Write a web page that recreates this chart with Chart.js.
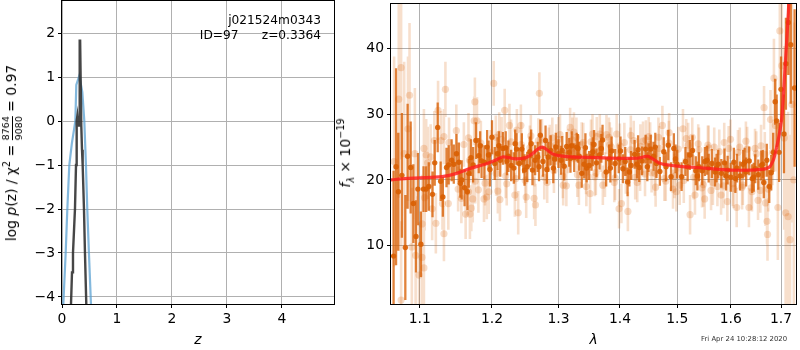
<!DOCTYPE html>
<html>
<head>
<meta charset="utf-8">
<script src="https://cdn.jsdelivr.net/npm/chart.js@4"></script>
<style>
html, body { margin: 0; padding: 0; background: #fff; overflow: hidden; }
#page { position: relative; width: 800px; height: 350px; font-family: "DejaVu Sans", sans-serif; color: #000; }
canvas { position: absolute; top: 0; }
#pzChart { left: 0; }
#specChart { left: 345px; }
.note { position: absolute; white-space: pre; line-height: 1; }
.rot { position: absolute; white-space: pre; transform: translate(-50%, -50%) rotate(-90deg); font-size: 13.9px; line-height: 1; }
.frac { display: inline-block; vertical-align: middle; text-align: center; font-size: 9.5px; line-height: 1; }
.frac span { display: block; }
.frac .num { border-bottom: 1px solid #000; padding-bottom: 1px; margin-bottom: 1px; }
sup, sub { font-size: 9.7px; line-height: 0; }
</style>
</head>
<body>
<div id="page">
  <canvas id="pzChart" width="345" height="350"></canvas>
  <canvas id="specChart" width="455" height="350"></canvas>
  <div class="note" style="right:479px;top:14px;font-size:12.2px">j021524m0343</div>
  <div class="note" style="right:479px;top:29px;font-size:12.2px">ID=97      z=0.3364</div>
  <div class="rot" style="left:12px;top:153px">log <i>p</i>(z) / χ<sup>2</sup> = <span class="frac"><span class="num">8764</span><span>9080</span></span> = 0.97</div>
  <div class="rot" style="left:346px;top:153px"><i>f</i><sub><i>λ</i></sub> × 10<sup>−19</sup></div>
  <div class="note" style="left:701px;top:336px;font-size:6.9px;color:#333">Fri Apr 24 10:28:12 2020</div>
</div>
<script>
// p(z) panel
const pzTicksX = [0, 1, 2, 3, 4];
const pzTicksY = [-4, -3, -2, -1, 0, 1, 2];
const priorZ = [0.024, 0.067, 0.097, 0.133, 0.18, 0.243, 0.26, 0.315, 0.37, 0.406, 0.436, 0.46, 0.49, 0.527];
const priorLogP = [-4.16, -3, -2, -1, -0.5, 0, 0.82, 1.03, 0.66, 0, -1, -2, -3, -4.16];
const fitZ = [0.164, 0.182, 0.2, 0.236, 0.255, 0.267, 0.278, 0.29, 0.3, 0.31, 0.322, 0.33, 0.351, 0.364, 0.376, 0.4, 0.418, 0.442];
const fitLogP = [-4.16, -3.44, -3, -2, -1, 0, 0.1, -0.1, 0.1, -0.1, 1.83, 1.83, -0.1, -0.65, -1, -2, -3, -4.16];

// spectrum panel
const specTicksX = [1.1, 1.2, 1.3, 1.4, 1.5, 1.6, 1.7];
const specTicksY = [10, 20, 30, 40];
const modelLam = [1.0625, 1.08, 1.1, 1.115, 1.13, 1.15, 1.17, 1.19, 1.205, 1.215, 1.225, 1.235, 1.25, 1.26, 1.268, 1.275, 1.282, 1.29, 1.3, 1.32, 1.36, 1.4, 1.43, 1.44, 1.448, 1.46, 1.47, 1.5, 1.55, 1.6, 1.64, 1.66, 1.669, 1.677, 1.681, 1.685, 1.689, 1.692, 1.697, 1.702, 1.708, 1.715, 1.718];
const modelFlux = [20, 20.2, 20.3, 20.4, 20.5, 21, 21.8, 22.4, 23, 23.5, 23.4, 23.2, 23.4, 24, 24.7, 25, 24.6, 24, 23.7, 23.5, 23.4, 23.3, 23.3, 23.5, 23.6, 23, 22.5, 22.1, 21.8, 21.5, 21.5, 21.6, 21.7, 22, 22.5, 23.2, 24.3, 25.3, 27.2, 29.8, 36.8, 45.5, 50];

const darkLam = [1.0658, 1.069, 1.072, 1.0765, 1.081, 1.084, 1.088, 1.0915, 1.095, 1.0975, 1.1015, 1.105, 1.1085, 1.112, 1.117, 1.12, 1.124, 1.128, 1.131, 1.136, 1.139, 1.143, 1.146, 1.1497, 1.153, 1.157, 1.161, 1.165, 1.17, 1.173, 1.177, 1.181, 1.185, 1.189, 1.193, 1.197, 1.2, 1.204, 1.208, 1.212, 1.216, 1.22, 1.224, 1.228, 1.232, 1.236, 1.24, 1.244, 1.248, 1.252, 1.256, 1.26, 1.264, 1.268, 1.272, 1.276, 1.28, 1.284, 1.288, 1.292, 1.296, 1.3, 1.304, 1.309, 1.313, 1.317, 1.321, 1.325, 1.329, 1.333, 1.337, 1.341, 1.345, 1.349, 1.353, 1.357, 1.361, 1.366, 1.371, 1.377, 1.382, 1.386, 1.392, 1.398, 1.405, 1.409, 1.413, 1.419, 1.425, 1.429, 1.433, 1.438, 1.444, 1.449, 1.453, 1.458, 1.463, 1.469, 1.476, 1.484, 1.489, 1.494, 1.5, 1.508, 1.515, 1.523, 1.528, 1.534, 1.54, 1.546, 1.551, 1.558, 1.564, 1.57, 1.576, 1.582, 1.588, 1.594, 1.6, 1.606, 1.612, 1.618, 1.624, 1.63, 1.636, 1.642, 1.648, 1.654, 1.66, 1.665, 1.671, 1.676, 1.68, 1.684, 1.688, 1.691, 1.696, 1.7, 1.706, 1.71, 1.715, 1.72, 1.728];
const darkFlux = [8.4, 22, 18.2, 20.7, 9.7, 23.6, 21.9, 16.4, 11.4, 18.6, 10.2, 18.6, 18.6, 19, 17.8, 22.6, 28, 19.8, 17.4, 21.9, 22.3, 23, 22.4, 24, 22.7, 20, 18.8, 18.2, 23.4, 22.3, 26, 23.7, 22.9, 22.7, 25, 21.6, 26.5, 22.5, 24, 23, 24.8, 24.9, 23.6, 22.2, 21.8, 24.7, 22.5, 24.7, 21.5, 22, 24.3, 21.5, 23, 23.5, 26.8, 22.8, 26, 23.5, 24.5, 21.8, 25, 24, 23, 22.1, 25.1, 24.2, 25.2, 23.4, 25, 23.6, 21, 22.4, 21.8, 22.2, 23.6, 25.4, 22.6, 23.8, 26.1, 21.2, 23.2, 24.4, 22.5, 23.2, 21.7, 22.8, 19.7, 22.2, 23.9, 22.4, 21.9, 22.9, 24.7, 23.4, 24.7, 23.6, 22.5, 21.3, 24.3, 25.3, 20.5, 24.8, 22.4, 20.5, 22.8, 23.8, 24.5, 21.4, 22, 21.4, 22.8, 21.8, 22.5, 21.2, 22.4, 21, 22.6, 21.5, 20.4, 22.7, 21.8, 20.6, 22.4, 21.2, 22.9, 20.2, 21.7, 20.8, 22.2, 19.6, 23, 19, 21.1, 24.2, 31.9, 29, 24.2, 33.8, 27, 37.7, 44, 40.6, 34, 50];
const darkErr = [13, 15, 9, 9.5, 8, 8, 7, 6, 5.5, 5.5, 5, 3.5, 3.5, 3.7, 3.5, 3.5, 3.8, 3, 3, 3, 3, 3.2, 3, 3, 3, 3, 2.8, 2.8, 2.8, 2.7, 2.8, 2.7, 2.6, 2.6, 2.6, 2.6, 2.6, 2.5, 2.5, 2.5, 2.5, 2.5, 2.4, 2.4, 2.4, 2.4, 2.4, 2.4, 2.4, 2.3, 2.3, 2.3, 2.3, 2.3, 2.4, 2.3, 2.3, 2.3, 2.3, 2.3, 2.2, 2.2, 2.2, 2.2, 2.2, 2.2, 2.2, 2.2, 2.2, 2.2, 2.2, 2.2, 2.2, 2.2, 2.2, 2.2, 2.2, 2.2, 2.3, 2.2, 2.2, 2.2, 2.2, 2.2, 2.2, 2.2, 2.2, 2.2, 2.2, 2.2, 2.2, 2.2, 2.2, 2.2, 2.2, 2.2, 2.2, 2.2, 2.2, 2.3, 2.2, 2.3, 2.2, 2.2, 2.2, 2.3, 2.3, 2.2, 2.2, 2.2, 2.2, 2.2, 2.2, 2.2, 2.2, 2.2, 2.2, 2.2, 2.2, 2.2, 2.2, 2.2, 2.2, 2.2, 2.2, 2.2, 2.2, 2.3, 2.3, 2.4, 2.5, 2.5, 2.7, 3, 3.5, 4, 4.5, 5, 6, 7, 8, 9, 12, 14, 24];

// points between the main ones, where the spectrum is densest
const darkLam2 = [1.155, 1.167, 1.183, 1.195, 1.21, 1.222, 1.234, 1.246, 1.258, 1.27, 1.282, 1.294, 1.306, 1.319, 1.331, 1.343, 1.355, 1.369, 1.384, 1.401, 1.416, 1.431, 1.447, 1.461, 1.48, 1.497, 1.519, 1.537, 1.555, 1.573, 1.591, 1.609, 1.627, 1.645, 1.663];
const darkFlux2 = [19.5, 21, 25.2, 23.8, 25.2, 22.9, 25.5, 23.2, 25.5, 22, 21.6, 23.2, 24.5, 23.3, 24.8, 24.9, 24.3, 24.8, 21.8, 24.4, 21.2, 24.6, 22, 25, 22, 23.2, 22, 20.6, 23, 21.8, 20.6, 20.2, 22.7, 20.4, 22.4];

const lightLam = [1.0665, 1.0725, 1.0755, 1.0755, 1.0845, 1.0795, 1.0865, 1.0935, 1.0895, 1.0945, 1.099, 1.103, 1.103, 1.1055, 1.1055, 1.1085, 1.1105, 1.1145, 1.1065, 1.1165, 1.1215, 1.1195, 1.1245, 1.1285, 1.1325, 1.1345, 1.1325, 1.1305, 1.1385, 1.1495, 1.1395, 1.1565, 1.1625, 1.1665, 1.1685, 1.1745, 1.1755, 1.1785, 1.1665, 1.1725, 1.1705, 1.1805, 1.1885, 1.1925, 1.1955, 1.2025, 1.2085, 1.2115, 1.2185, 1.2215, 1.2255, 1.2105, 1.2055, 1.2335, 1.2385, 1.2425, 1.2365, 1.2505, 1.2575, 1.2625, 1.2645, 1.2705, 1.2745, 1.2825, 1.2865, 1.2905, 1.2965, 1.3025, 1.3075, 1.3125, 1.3185, 1.3245, 1.3285, 1.3325, 1.3395, 1.3445, 1.3505, 1.3545, 1.3585, 1.3615, 1.3665, 1.3715, 1.3775, 1.3815, 1.3855, 1.3905, 1.3945, 1.3985, 1.4025, 1.4075, 1.4135, 1.4185, 1.4235, 1.4295, 1.4345, 1.4395, 1.4445, 1.4495, 1.4545, 1.4615, 1.4665, 1.4735, 1.4795, 1.4855, 1.4925, 1.4985, 1.5045, 1.5105, 1.5165, 1.5235, 1.5275, 1.5325, 1.5385, 1.5455, 1.5505, 1.5565, 1.5625, 1.5685, 1.5745, 1.5815, 1.5875, 1.5935, 1.5995, 1.6055, 1.6115, 1.6175, 1.6235, 1.6295, 1.6355, 1.6415, 1.6475, 1.6535, 1.6595, 1.6655, 1.6685, 1.6715, 1.6725, 1.6785, 1.6825, 1.6855, 1.6885, 1.6935, 1.6975, 1.7015, 1.7065, 1.7095, 1.7145, 1.7185, 1.7225, 1.7265];
const lightFlux = [22.8, 32.3, 37.1, 1.7, 27.8, 24, 32.9, 24, 9.8, 8.5, 5.5, 13.3, 8.2, 6.6, 24.8, 23.8, 22.6, 23.5, 17.3, 15.6, 13.4, 26, 30.6, 26, 26.6, 33.8, 11.8, 16.4, 16.4, 27.5, 25.7, 17.2, 14.8, 26.4, 14.8, 29, 31.9, 29, 18.2, 17.1, 15.7, 18.5, 17.1, 17.4, 18.2, 34.7, 18.3, 17, 30.6, 19.4, 28.3, 27, 26.5, 17.7, 15, 28.3, 27.6, 17.4, 26.7, 17.2, 16.2, 33.2, 26.1, 19.6, 25.3, 26.4, 25.4, 26.9, 19.2, 19.1, 28, 27.3, 26.5, 19.2, 25.7, 19, 17.9, 27, 20.5, 26.6, 27, 19.2, 26.9, 26.5, 25, 19.6, 27, 15.6, 16.4, 25.7, 15.2, 26.8, 26, 19.6, 21.3, 25.9, 26.1, 26.6, 21.1, 18.9, 26.5, 28.3, 19.8, 27.2, 18.6, 18.2, 19.2, 27.8, 26.3, 14.7, 26.5, 17.7, 25.5, 18.8, 17.1, 25.3, 18.4, 25, 19, 17.7, 25.7, 16.7, 26.2, 18.7, 15.8, 25, 19.2, 25.9, 15.8, 18.2, 24.8, 16.9, 25.2, 31, 16.5, 13.7, 11.7, 29.2, 24.2, 35.5, 28.3, 15.8, 42.7, 37.4, 26.4, 15, 14.4, 10.9, 31.5, 20];
const lightErr = [16, 15, 14, 12, 11, 14, 11, 10, 9, 9, 8, 7.5, 8, 7.5, 6, 5.5, 5.5, 5, 5, 4.8, 4.6, 4.5, 4.5, 4.5, 4.2, 4.2, 4.2, 4, 4, 4, 3.8, 3.8, 3.8, 3.8, 3.8, 3.7, 3.7, 3.6, 3.6, 3.6, 3.5, 3.5, 3.5, 3.4, 3.4, 3.4, 3.4, 3.3, 3.3, 3.3, 3.3, 3.3, 3.3, 3.3, 3.3, 3.2, 3.2, 3.2, 3.2, 3.2, 3.2, 3.2, 3.2, 3.1, 3.1, 3.1, 3.1, 3.1, 3.1, 3.1, 3, 3, 3, 3, 3, 3, 3, 3, 3, 3, 3, 3, 3, 3, 3, 3, 3, 3, 3, 3, 3, 3, 3, 3, 3, 3, 3, 3, 3, 3, 3, 3, 3, 3, 3, 3, 3, 3, 3, 3, 3, 3, 3, 3, 3, 3, 3, 3, 3, 3, 3, 3, 3, 3, 3, 3, 3, 3, 3, 3, 3, 3, 3.2, 3.3, 3.5, 3.5, 4, 4.5, 5, 6, 7, 8, 9, 10, 14, 15, 16, 16, 18, 24];

const lightLam2 = [1.152, 1.16, 1.168, 1.176, 1.184, 1.19, 1.198, 1.206, 1.214, 1.22, 1.228, 1.235, 1.243, 1.249, 1.256, 1.263, 1.269, 1.278, 1.285, 1.293, 1.3, 1.307, 1.315, 1.322, 1.33, 1.337, 1.344, 1.352, 1.36, 1.368, 1.375, 1.383, 1.392, 1.4, 1.41, 1.418, 1.426, 1.435, 1.443, 1.452, 1.46, 1.468, 1.477, 1.485, 1.495, 1.502, 1.512, 1.52, 1.53, 1.54, 1.548, 1.558, 1.566, 1.578, 1.586, 1.596, 1.604, 1.614, 1.622, 1.632, 1.64, 1.65, 1.658, 1.667, 1.674];
const lightFlux2 = [18.6, 25.4, 23, 19.8, 25.6, 19.5, 24.2, 21, 26.2, 20.6, 25.8, 20.2, 25.4, 19.9, 24.9, 22.4, 26, 20.4, 24.6, 21.4, 26.2, 20.6, 24.4, 26.1, 20.8, 25.4, 21.2, 25.8, 21.1, 24.6, 20.8, 25.4, 20.3, 25.2, 21.3, 24.6, 20.4, 25.1, 20.9, 25.4, 21, 24.8, 20.2, 25.6, 20.6, 24.7, 19.9, 25.3, 20.4, 24.6, 19.3, 24.9, 19.6, 24.3, 19.1, 24.8, 19.4, 24.2, 18.9, 24.7, 18.8, 24, 18.4, 23.9, 18.6];

const grey = '#b0b0b0';
const tickFont = { family: '"DejaVu Sans", sans-serif', size: 13.9 };
const darkBar = 'rgba(217,95,2,0.78)';
const lightBar = 'rgba(217,95,2,0.2)';

function toPoints(xs, ys) {
    return xs.map((x, i) => ({ x: x, y: ys[i] }));
}

// one line with gaps, so every error bar stays a real data segment
function errorSegments(xs, ys, errs) {
    const pts = [];
    xs.forEach((x, i) => {
        const e = Array.isArray(errs) ? errs[i] : errs;
        pts.push({ x: x, y: ys[i] - e });
        pts.push({ x: x, y: ys[i] + e });
        pts.push({ x: x, y: null });
    });
    return pts;
}

function markers(xs, ys, radius, color) {
    return { data: toPoints(xs, ys), showLine: false, pointRadius: radius, pointBorderWidth: 0, pointBackgroundColor: color };
}

function bars(xs, ys, errs, color, width) {
    return { data: errorSegments(xs, ys, errs), borderColor: color, borderWidth: width, pointRadius: 0, spanGaps: false, borderCapStyle: 'butt' };
}

const frame = {
    id: 'frame',
    afterDraw(chart) {
        const a = chart.chartArea;
        const ctx = chart.ctx;
        ctx.save();
        ctx.strokeStyle = '#000';
        ctx.lineWidth = 1;
        ctx.strokeRect(a.left - 0.5, a.top - 0.5, a.right - a.left + 1, a.bottom - a.top + 1);
        ctx.restore();
    }
};

function axis(type, min, max, ticks, digits, size, title) {
    const isX = size.h !== undefined;
    const cfg = {
        type: type,
        min: min,
        max: max,
        grid: { color: grey, lineWidth: 1, tickColor: '#000', tickLength: 4 },
        border: { display: false },
        ticks: {
            color: '#000',
            font: tickFont,
            padding: 3,
            autoSkip: false,
            maxRotation: 0,
            callback: (v) => Number(v).toFixed(digits).replace('-', '\u2212')
        },
        afterBuildTicks: (s) => { s.ticks = ticks.map((v) => ({ value: v })); },
        afterFit: (s) => {
            // no room kept for labels at the ends, the plot box is pinned
            s.paddingTop = 0;
            s.paddingBottom = 0;
            s.paddingLeft = 0;
            s.paddingRight = 0;
            if (isX) s.height = size.h; else s.width = size.w;
        }
    };
    if (title) {
        cfg.title = {
            display: true,
            text: title,
            color: '#000',
            font: { family: '"DejaVu Sans", sans-serif', size: 13.9, style: 'italic' },
            padding: { top: 0, bottom: 1 }
        };
    }
    return cfg;
}

new Chart(document.getElementById('pzChart'), {
    type: 'line',
    data: {
        datasets: [
            { data: toPoints(fitZ, fitLogP), borderColor: 'rgba(50,50,50,0.9)', borderWidth: 2.4, pointRadius: 0, tension: 0 },
            { data: toPoints(priorZ, priorLogP), borderColor: 'rgba(90,160,210,0.75)', borderWidth: 2.2, pointRadius: 0, tension: 0 }
        ]
    },
    options: {
        responsive: false,
        animation: false,
        layout: { padding: { top: 1, right: 11, left: 0, bottom: 0 } },
        plugins: { legend: { display: false }, tooltip: { enabled: false } },
        scales: {
            x: axis('linear', 0, 4.95, pzTicksX, 0, { h: 46 }, 'z'),
            y: axis('linear', -4.16, 2.73, pzTicksY, 0, { w: 62 })
        }
    },
    plugins: [frame]
});

new Chart(document.getElementById('specChart'), {
    type: 'line',
    data: {
        datasets: [
            { data: toPoints(modelLam, modelFlux), borderColor: 'rgba(255,30,30,0.82)', borderWidth: 3.2, pointRadius: 0, tension: 0.3 },
            markers(darkLam, darkFlux, 2.7, 'rgba(217,95,2,0.9)'),
            markers(darkLam2, darkFlux2, 2.7, 'rgba(217,95,2,0.9)'),
            bars(darkLam, darkFlux, darkErr, darkBar, 2.3),
            bars(darkLam2, darkFlux2, 2.2, darkBar, 2.3),
            markers(lightLam, lightFlux, 3.6, 'rgba(217,95,2,0.22)'),
            markers(lightLam2, lightFlux2, 3.6, 'rgba(217,95,2,0.22)'),
            bars(lightLam, lightFlux, lightErr, lightBar, 2.6),
            bars(lightLam2, lightFlux2, 3.4, lightBar, 2.6)
        ]
    },
    options: {
        responsive: false,
        animation: false,
        layout: { padding: { top: 1, right: 1, left: 0, bottom: 0 } },
        plugins: { legend: { display: false }, tooltip: { enabled: false } },
        scales: {
            x: axis('logarithmic', 1.0625, 1.7309, specTicksX, 1, { h: 46 }, '\u03bb'),
            y: axis('linear', 1.1, 46.8, specTicksY, 0, { w: 46 })
        }
    },
    plugins: [frame]
});
</script>
</body>
</html>
